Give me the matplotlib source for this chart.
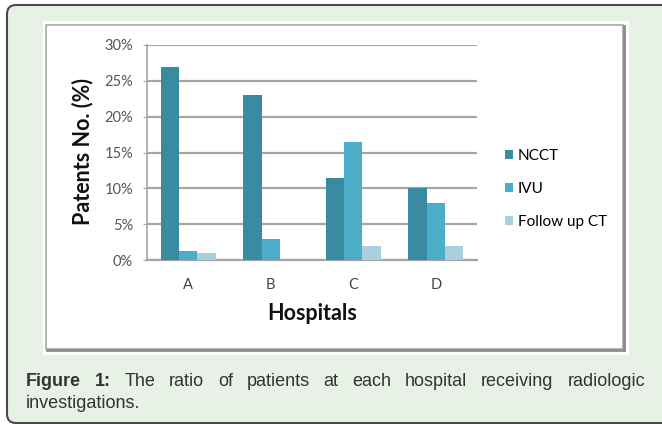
import matplotlib.pyplot as plt
from matplotlib.patches import FancyBboxPatch, Rectangle
from matplotlib.transforms import IdentityTransform
import numpy as np

hospitals = ['A', 'B', 'C', 'D']
ncct = [27.0, 23.0, 11.5, 10.0]
ivu = [1.2, 3.0, 16.5, 8.0]
follow_up = [1.0, 0.0, 2.0, 2.0]
series_names = ['NCCT', 'IVU', 'Follow up CT']
colors = ['#3a8aa1', '#4badc7', '#a8d0de']
y_ticks = [0, 5, 10, 15, 20, 25, 30]

W, H = 662, 424
fig = plt.figure(figsize=(W / 100, H / 100), dpi=100)
fig.patch.set_facecolor('white')
px = IdentityTransform()

# green card behind everything
card = FancyBboxPatch((7, H - 423), 700, 418, boxstyle='round,pad=0,rounding_size=9',
                      facecolor='#e8f1e6', edgecolor='#4a4a4a', lw=1.5,
                      transform=px, zorder=-10)
fig.add_artist(card)
# white panel with grey frame
fig.add_artist(Rectangle((43, H - 355), 586, 334, facecolor='white', edgecolor='none',
                         transform=px, zorder=-9))
fig.add_artist(Rectangle((46, H - 349), 577, 324, facecolor='none', edgecolor='#a8a8a8',
                         lw=1.2, transform=px, zorder=-8))
fig.add_artist(plt.Line2D([624, 624], [H - 350, H - 26], color='#8c8c8c', lw=2,
                          transform=px, zorder=-8))
fig.add_artist(plt.Line2D([47, 624], [H - 350, H - 350], color='#8c8c8c', lw=2,
                          transform=px, zorder=-8))

ax = fig.add_axes([147 / W, 1 - 260 / H, 330 / W, 215 / H])
ax.set_facecolor('none')

x = np.arange(len(hospitals))
bw = 0.223
for i, (vals, name) in enumerate(zip([ncct, ivu, follow_up], series_names)):
    ax.bar(x + (i - 1) * bw, vals, bw, color=colors[i], label=name, zorder=3)

ax.set_xlim(-0.5, 3.5)
ax.set_ylim(0, 30)
ax.set_yticks(y_ticks)
ax.set_yticklabels([f'{t}%' for t in y_ticks])
ax.set_xticks(x)
ax.set_xticklabels(hospitals)
ax.yaxis.grid(True, color='#a6a6a6', lw=1.6, zorder=0)
ax.set_axisbelow(True)
for s in ['top', 'right']:
    ax.spines[s].set_visible(False)
ax.spines['left'].set_color('#a6a6a6')
ax.spines['bottom'].set_color('#a6a6a6')
ax.spines['left'].set_linewidth(1.2)
ax.spines['bottom'].set_linewidth(1.6)
ax.tick_params(axis='y', length=3, color='#a6a6a6', pad=7, labelsize=10.5,
               labelcolor='#555555')
ax.tick_params(axis='x', length=0, pad=13, labelsize=10.5, labelcolor='#444444')
for lab in ax.get_xticklabels() + ax.get_yticklabels():
    lab.set_fontfamily('Lato')

fig.text(83 / W, 1 - 152 / H, 'Patents No. (%)', rotation=90, ha='center', va='center',
         fontsize=15.5, fontweight='bold', family='Lato', color='#111111')
fig.text(312 / W, 1 - 313 / H, 'Hospitals', ha='center', va='center',
         fontsize=15.5, fontweight='bold', family='Lato', color='#111111')

ax.legend(loc='center left', bbox_to_anchor=(491 / W, 1 - 189 / H),
          bbox_transform=fig.transFigure, frameon=False,
          prop={'family': 'Lato', 'size': 11},
          handlelength=0.55, handleheight=0.55, handletextpad=0.3, labelspacing=1.25)

# justified caption
line1 = ['Figure', '1:', 'The', 'ratio', 'of', 'patients', 'at', 'each', 'hospital',
         'receiving', 'radiologic']
renderer = fig.canvas.get_renderer()
texts = []
for k, w in enumerate(line1):
    t = fig.text(0, 1 - 381 / H, w, ha='left', va='center', fontsize=13,
                 family='Liberation Sans', color='#333333',
                 fontweight='bold' if k < 2 else 'normal')
    texts.append(t)
widths = [t.get_window_extent(renderer).width for t in texts]
gap = (645 - 26 - sum(widths)) / (len(texts) - 1)
xpos = 26
for t, wd in zip(texts, widths):
    t.set_x(xpos / W)
    xpos += wd + gap
fig.text(26 / W, 1 - 403 / H, 'investigations.', ha='left', va='center', fontsize=13,
         family='Liberation Sans', color='#333333')

fig.savefig('out.png', dpi=100)
